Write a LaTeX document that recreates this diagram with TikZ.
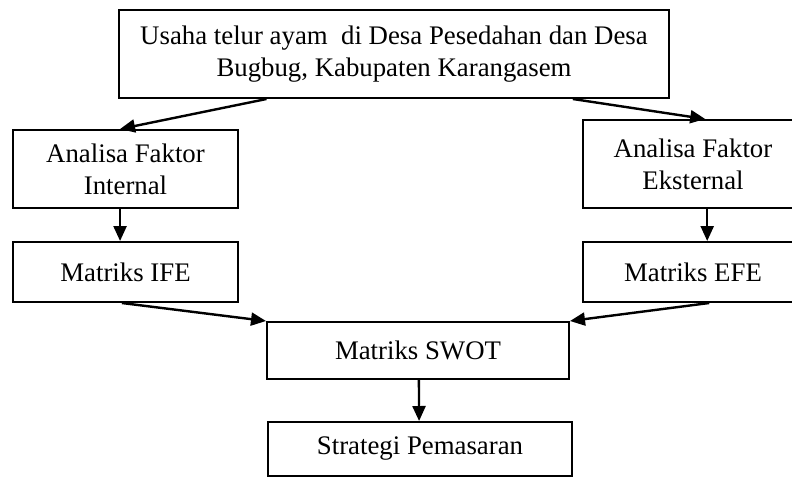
\documentclass[tikz,border=0pt]{standalone}
\usepackage{fontspec}
\setmainfont{Liberation Serif}
\usetikzlibrary{arrows.meta,calc}
\begin{document}
\begin{tikzpicture}[x=1pt,y=-1pt,
  box/.style={draw=black,line width=2pt,inner sep=0pt,align=center,
    font=\fontsize{26.8}{32}\selectfont},
  conn/.style={line width=2.4pt,-{Triangle[length=15pt,width=13pt]}}]
\useasboundingbox (0,0) rectangle (792,477);
\fill[white] (0,0) rectangle (792,477);
\node[box,minimum width=550pt,minimum height=88pt] (top) at (394,54)
  {Usaha telur ayam~ di Desa Pesedahan dan Desa\\Bugbug, Kabupaten Karangasem};
\node[box,minimum width=225pt,minimum height=78pt] (int) at (125.5,169)
  {Analisa Faktor\\Internal};
\node[box,minimum width=220pt,minimum height=88pt] (ext) at (693,164)
  {Analisa Faktor\\Eksternal};
\node[box,minimum width=225pt,minimum height=60pt] (ife) at (125.5,272)
  {Matriks IFE};
\node[box,minimum width=220pt,minimum height=60pt] (efe) at (693,272)
  {Matriks EFE};
\node[box,minimum width=302pt,minimum height=57pt] (swot) at (418,350.5)
  {Matriks SWOT};
\node[box,minimum width=304pt,minimum height=54pt] (strat) at (420,449)
  {Strategi Pemasaran};
\draw[conn] ($(top.south west)!0.269!(top.south east)$) -- ($(int.north west)!0.476!(int.north east)$);
\draw[conn] ($(top.south west)!0.824!(top.south east)$) -- ($(ext.north west)!0.555!(ext.north east)$);
\draw[conn] ($(int.south west)!0.476!(int.south east)$) -- ($(ife.north west)!0.476!(ife.north east)$);
\draw[conn] ($(ext.south west)!0.564!(ext.south east)$) -- ($(efe.north west)!0.564!(efe.north east)$);
\draw[conn] ($(ife.south west)!0.484!(ife.south east)$) -- (swot.north west);
\draw[conn] ($(efe.south west)!0.573!(efe.south east)$) -- (swot.north east);
\draw[conn] ($(swot.south west)!0.503!(swot.south east)$) -- ($(strat.north west)!0.497!(strat.north east)$);
\end{tikzpicture}
\end{document}
